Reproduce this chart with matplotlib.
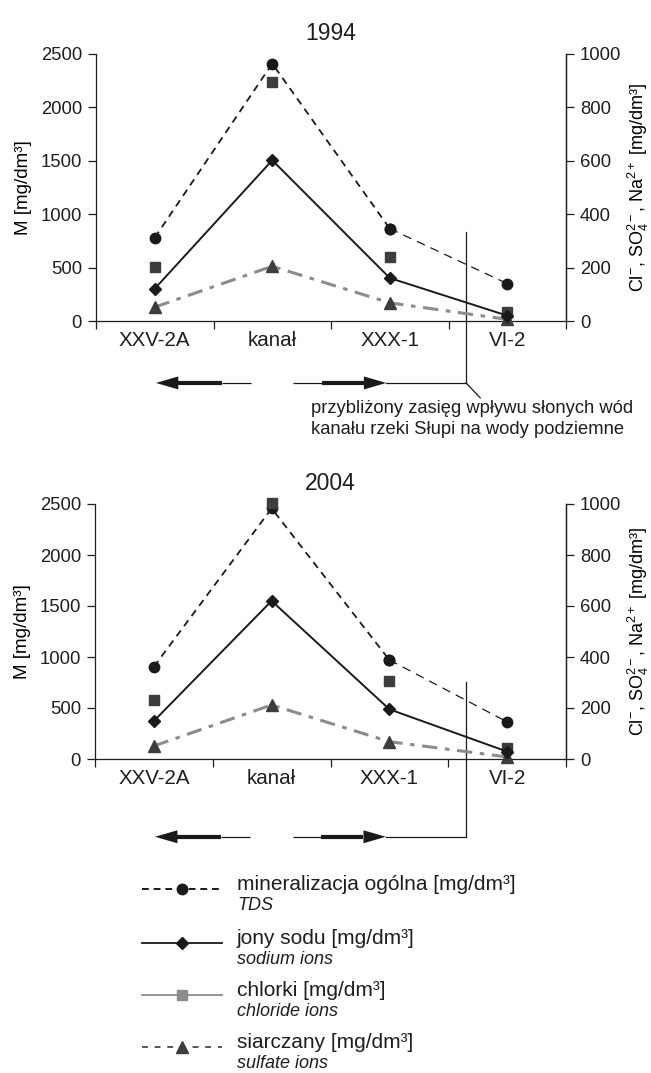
import matplotlib
matplotlib.use('Agg')
import matplotlib.pyplot as plt
from matplotlib.lines import Line2D
from matplotlib.patches import Polygon

plt.rcParams['font.family'] = ['Liberation Sans', 'DejaVu Sans']
plt.rcParams['mathtext.fontset'] = 'custom'
plt.rcParams['mathtext.rm'] = 'Liberation Sans'
plt.rcParams['mathtext.it'] = 'Liberation Sans:italic'
plt.rcParams['text.color'] = '#1e1e1e'
plt.rcParams['axes.edgecolor'] = '#1e1e1e'
plt.rcParams['xtick.color'] = '#1e1e1e'
plt.rcParams['ytick.color'] = '#1e1e1e'

# data
stations = ['XXV-2A', 'kanał', 'XXX-1', 'VI-2']
years = ['1994', '2004']
tds_1994 = [780, 2410, 865, 350]      # left axis, mg/dm3
na_1994 = [121, 602, 161, 20]         # right axis
cl_1994 = [202, 894, 240, 35]
so4_1994 = [52, 205, 68, 6]
tds_2004 = [905, 2457, 971, 364]
na_2004 = [149, 620, 195, 29]
cl_2004 = [231, 1003, 306, 42]
so4_2004 = [51, 212, 68, 8]

m_ticks = [0, 500, 1000, 1500, 2000, 2500]
ion_ticks = [0, 200, 400, 600, 800, 1000]

legend_main = ['mineralizacja ogólna [mg/dm³]', 'jony sodu [mg/dm³]',
               'chlorki [mg/dm³]', 'siarczany [mg/dm³]']
legend_sub = ['TDS', 'sodium ions', 'chloride ions', 'sulfate ions']
note = ['przybliżony zasięg wpływu słonych wód',
        'kanału rzeki Słupi na wody podziemne']

DARK = '#1a1a1a'
MARK = '#3d3d3d'
GREY = '#8c8c8c'

W, H = 651, 1073
fig = plt.figure(figsize=(W / 100, H / 100), dpi=100)


def fx(px):
    return px / W


def fy(py):
    return 1 - py / H


def arrow(ax, tip, base, thick_end, thin_end, y, half_px):
    tr = ax.get_xaxis_transform()
    ax_h = fig.get_figheight() * fig.dpi * ax.get_position().height
    hh = half_px / ax_h
    ax.plot([thick_end, thin_end], [y, y], color=DARK, lw=0.9,
            transform=tr, clip_on=False, solid_capstyle='butt')
    ax.plot([base, thick_end], [y, y], color=DARK, lw=3.0,
            transform=tr, clip_on=False, solid_capstyle='butt')
    ax.add_patch(Polygon([[tip, y], [base, y + hh], [base, y - hh]],
                         closed=True, color=DARK, transform=tr,
                         clip_on=False, lw=0))


def panel(ax, year, tds, na, cl, so4, arrow_y, vline_top, show_note,
          rpad):
    x = [i + 0.5 for i in range(len(stations))]
    ax2 = ax.twinx()
    ax.set_xlim(0, 4)
    ax.set_ylim(0, 2500)
    ax2.set_ylim(0, 1000)

    # TDS on left axis, last segment drawn thinner like the original
    ax.plot(x[:3], tds[:3], color=DARK, lw=1.3, ls=(0, (4, 3)),
            marker='o', ms=7.5, zorder=4, clip_on=False)
    ax.plot(x[2:], tds[2:], color=DARK, lw=0.9, ls=(0, (7, 5)),
            marker='o', ms=7.5, zorder=4, clip_on=False)

    ax2.plot(x, so4, color=GREY, lw=2.2, ls=(0, (5, 2.5, 1.5, 2.5)),
             zorder=2, clip_on=False)
    ax2.plot(x, so4, ls='none', marker='^', ms=9, color=MARK, zorder=3,
             clip_on=False)
    ax2.plot(x, cl, ls='none', marker='s', ms=6.5, color=MARK, zorder=3,
             clip_on=False)
    ax2.plot(x, na, color=DARK, lw=1.4, marker='D', ms=6, zorder=4,
             clip_on=False)

    ax.set_title(year, fontsize=16.5, pad=10)
    ax.set_yticks(m_ticks)
    ax2.set_yticks(ion_ticks)
    ax.set_xticks(range(5))
    ax.set_xticklabels([])
    ax.set_xticks(x, stations, minor=True)
    ax.tick_params(axis='x', which='minor', length=0, pad=7, labelsize=14.8)
    ax.tick_params(axis='x', which='major', length=6, width=0.9, direction='out')
    ax.tick_params(axis='y', length=6, width=0.9, pad=4, labelsize=13.3)
    ax2.tick_params(axis='y', length=6, width=0.9, pad=4, labelsize=13.3)

    for a in (ax, ax2):
        a.spines['top'].set_visible(False)
        for s in a.spines.values():
            s.set_linewidth(0.9)
    ax2.spines['left'].set_visible(False)
    ax2.spines['bottom'].set_visible(False)

    ax.set_ylabel('M [mg/dm³]', fontsize=13.5, labelpad=6)
    ax2.set_ylabel(r'Cl$^{-}$, SO$_4^{2-}$, Na$^{2+}$ [mg/dm³]',
                   fontsize=13, labelpad=rpad)

    # range of saline water influence
    tr = ax.get_xaxis_transform()
    xv = 3.15
    ax.plot([xv, xv], [vline_top, arrow_y], color=DARK, lw=0.9,
            transform=tr, clip_on=False)
    ax.plot([2.47, xv], [arrow_y, arrow_y], color=DARK, lw=0.9,
            transform=tr, clip_on=False)
    arrow(ax, 0.51, 0.70, 1.07, 1.32, arrow_y, 6.5)
    arrow(ax, 2.47, 2.28, 1.92, 1.68, arrow_y, 6.5)

    if show_note:
        ax.plot([xv, 3.27], [arrow_y, arrow_y - 0.056], color=DARK, lw=0.9,
                transform=tr, clip_on=False)
        ax.text(1.83, -0.326, note[0], transform=tr, fontsize=13.2,
                va='center', ha='left')
        ax.text(1.83, -0.408, note[1], transform=tr, fontsize=13.2,
                va='center', ha='left')


ax_top = fig.add_axes([fx(96), fy(321), fx(566) - fx(96), fy(54) - fy(321)])
ax_bot = fig.add_axes([fx(95), fy(759), fx(566) - fx(95), fy(504) - fy(759)])

panel(ax_top, years[0], tds_1994, na_1994, cl_1994, so4_1994,
      -0.232, 0.334, True, 3)
panel(ax_bot, years[1], tds_2004, na_2004, cl_2004, so4_2004,
      -0.305, 0.303, False, 3)

# legend drawn by hand
handles = [
    dict(color=DARK, ls=(0, (3.5, 2.5)), lw=1.4, marker='o', mc=DARK, ms=7.5),
    dict(color=DARK, ls='-', lw=1.3, marker='D', mc=DARK, ms=6),
    dict(color=GREY, ls='-', lw=1.3, marker='s', mc=GREY, ms=6.5),
    dict(color='#555555', ls=(0, (3, 3.5)), lw=1.4, marker='^', mc=MARK, ms=9),
]
row_y = [889, 943, 995, 1047]
for i, h in enumerate(handles):
    yy = fy(row_y[i])
    fig.add_artist(Line2D([fx(142), fx(222)], [yy, yy], color=h['color'],
                          ls=h['ls'], lw=h['lw'], transform=fig.transFigure))
    fig.add_artist(Line2D([fx(182)], [yy], ls='none', marker=h['marker'],
                          ms=h['ms'], color=h['mc'],
                          transform=fig.transFigure))
    fig.text(fx(237), fy(row_y[i] - 4), legend_main[i], fontsize=15,
             va='center', ha='left')
    fig.text(fx(237), fy(row_y[i] + 17), legend_sub[i], fontsize=13,
             style='italic', va='center', ha='left')

fig.savefig('out.png', dpi=100)
